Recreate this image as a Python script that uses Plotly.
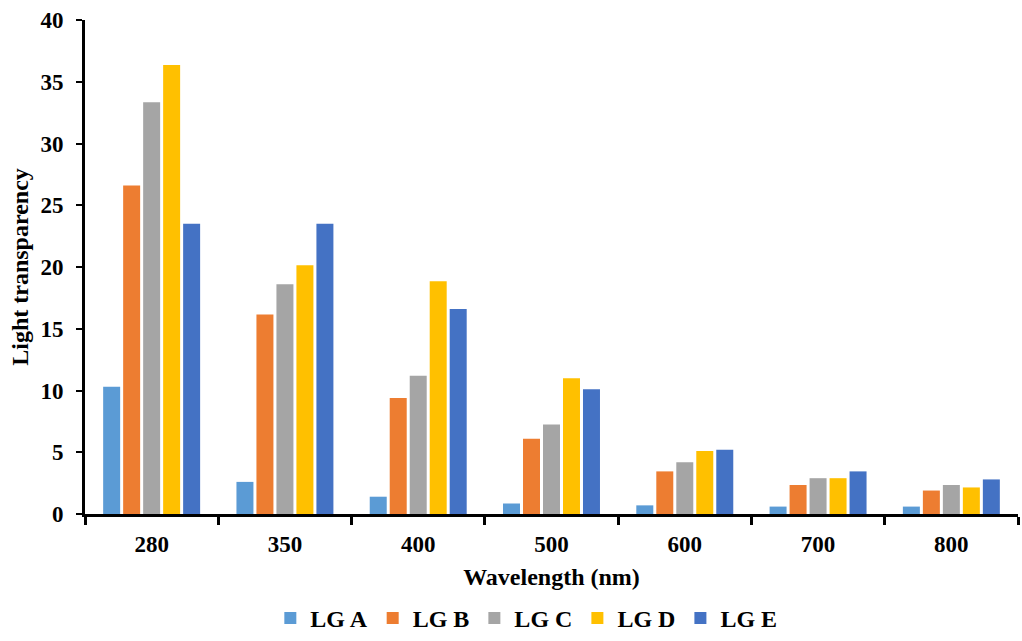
import plotly.graph_objects as go

wavelengths = ["280", "350", "400", "500", "600", "700", "800"]
series_names = ["LG A", "LG B", "LG C", "LG D", "LG E"]
lg_a = [10.3, 2.6, 1.4, 0.85, 0.7, 0.6, 0.6]
lg_b = [26.6, 16.15, 9.4, 6.1, 3.45, 2.35, 1.9]
lg_c = [33.35, 18.6, 11.2, 7.25, 4.2, 2.9, 2.35]
lg_d = [36.35, 20.15, 18.85, 11.0, 5.1, 2.9, 2.15]
lg_e = [23.5, 23.5, 16.6, 10.1, 5.2, 3.45, 2.8]
colors = ["#5B9BD5", "#ED7D31", "#A5A5A5", "#FFC000", "#4472C4"]
y_ticks = [0, 5, 10, 15, 20, 25, 30, 35, 40]

font_family = "Liberation Serif"
fig = go.Figure()
for name, vals, col in zip(series_names, [lg_a, lg_b, lg_c, lg_d, lg_e], colors):
    fig.add_trace(go.Bar(name=name, x=wavelengths, y=vals, marker_color=col,
                         marker_line_width=0))

fig.update_layout(
    width=1022, height=641,
    margin=dict(l=85, r=4, t=20, b=127),
    paper_bgcolor="white", plot_bgcolor="white",
    barmode="group", bargap=0.25, bargroupgap=0.15,
    font=dict(family=font_family, size=24, color="black", weight="bold"),
    showlegend=True,
    legend=dict(orientation="h", xref="container", yref="container",
                x=0.515, xanchor="center", y=0.0, yanchor="bottom",
                bgcolor="rgba(0,0,0,0)",
                font=dict(family=font_family, size=24, color="black", weight="bold"),
                itemwidth=30, traceorder="normal"),
    xaxis=dict(
        title=dict(text="Wavelength (nm)", standoff=13,
                   font=dict(family=font_family, size=24, weight="bold")),
        showline=True, linecolor="black", linewidth=3,
        ticks="outside", tickson="boundaries", ticklen=8, tickwidth=3, tickcolor="black",
        ticklabelstandoff=7,
        showgrid=False, zeroline=False, automargin=False,
        tickfont=dict(family=font_family, size=23, weight="bold"),
    ),
    yaxis=dict(
        title=dict(text="Light transparency", standoff=6,
                   font=dict(family=font_family, size=24, weight="bold")),
        range=[0, 40], tickvals=y_ticks,
        showline=True, linecolor="black", linewidth=3,
        ticks="outside", ticklen=6, tickwidth=2, tickcolor="black",
        ticklabelstandoff=8,
        showgrid=False, zeroline=False, automargin=False,
        tickfont=dict(family=font_family, size=23, weight="bold"),
    ),
)

fig.write_html("out.html")
